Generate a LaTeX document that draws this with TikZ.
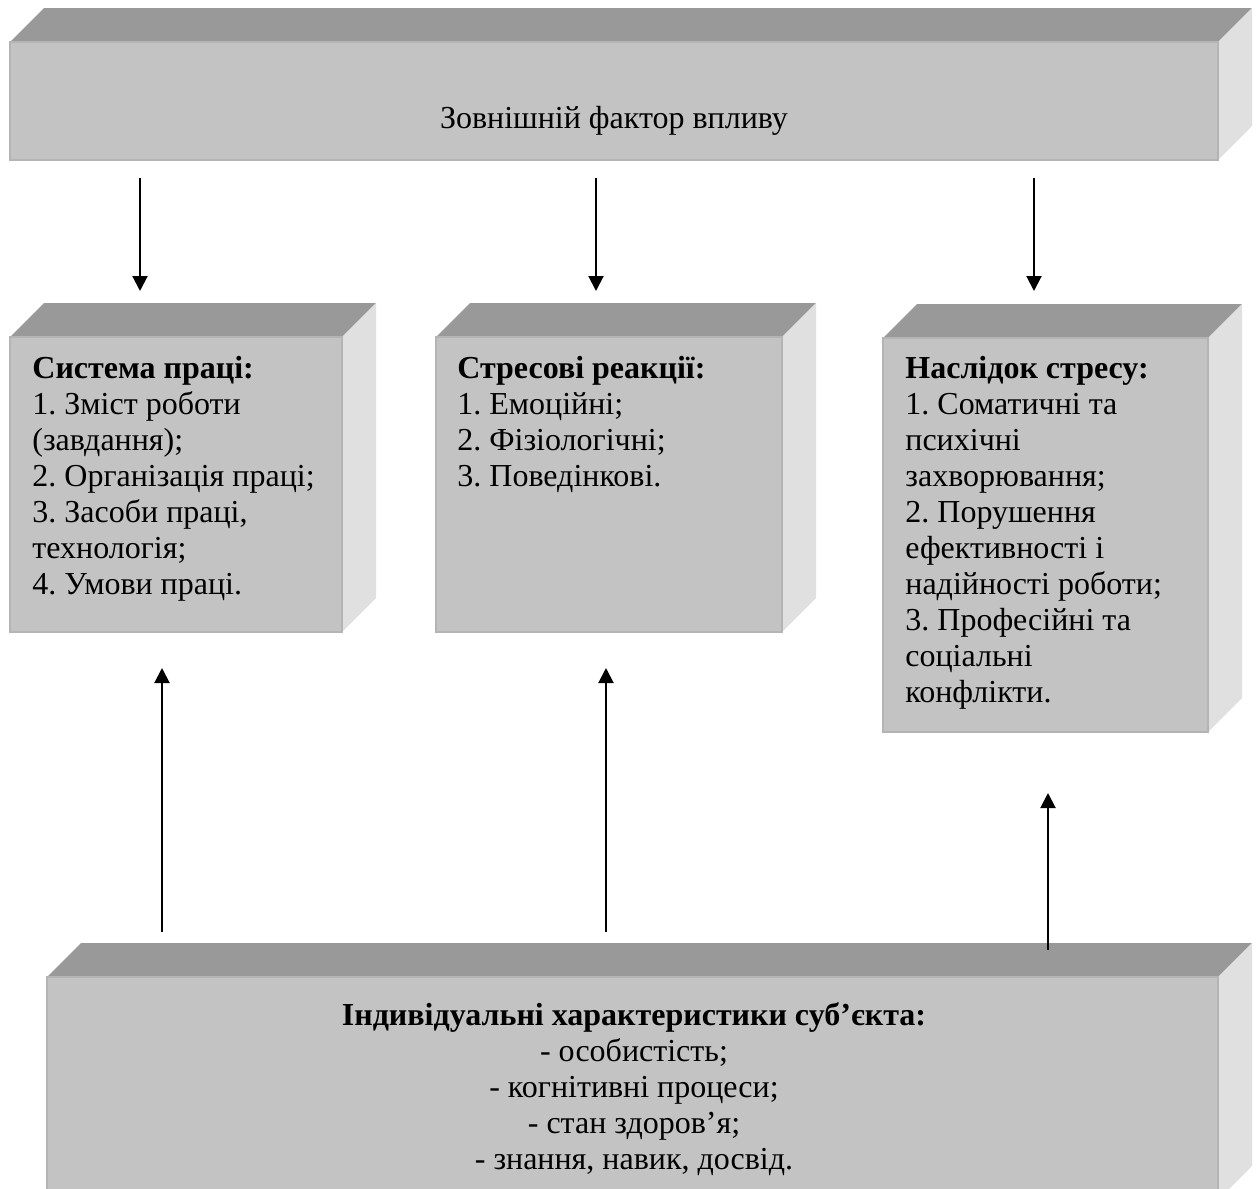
\documentclass[tikz,border=0pt]{standalone}
\usepackage{fontspec}
\setmainfont{Liberation Serif}
\usetikzlibrary{arrows.meta}
\definecolor{facegray}{RGB}{195,195,195}
\definecolor{topgray}{RGB}{153,153,153}
\definecolor{sidegray}{RGB}{224,224,224}
\definecolor{edgegray}{RGB}{180,180,180}
% block with front face (#1,#2)-(#3,#4), top and side faces behind it
\newcommand{\drawblock}[4]{%
  \fill[topgray] (#1,#2) -- (#1+34,#2-34) -- (#3+34,#2-34) -- (#3,#2) -- cycle;
  \fill[sidegray] (#3,#2) -- (#3+34,#2-34) -- (#3+34,#4-34) -- (#3,#4) -- cycle;
  \filldraw[fill=facegray, draw=edgegray, line width=1pt] (#1,#2) rectangle (#3,#4);}
\frenchspacing

\begin{document}
\begin{tikzpicture}[x=0.5pt, y=-0.5pt,
  every node/.style={font=\fontsize{16}{18}\selectfont, inner sep=0pt},
  boxtext/.style={align=left, anchor=north west},
  arr/.style={line width=1pt, -{Triangle[length=7.5pt,width=7.5pt]}}]
\useasboundingbox (0,0) rectangle (1259,1189);

% blocks
\drawblock{10}{42}{1218}{160}
\drawblock{10}{337}{342}{632}
\drawblock{436}{337}{782}{632}
\drawblock{883}{338}{1208}{732}
\drawblock{47}{977}{1218}{1200}

% texts
\node[anchor=base] (factor) at (614,128) {Зовнішній фактор впливу};
\node[boxtext] (system) at (32,356) {\textbf{Система праці:}\\1. Зміст роботи\\(завдання);\\2. Організація праці;\\3. Засоби праці,\\технологія;\\4. Умови праці.};
\node[boxtext] (reaction) at (457,356) {\textbf{Стресові реакції:}\\1. Емоційні;\\2. Фізіологічні;\\3. Поведінкові.};
\node[boxtext] (result) at (905,356) {\textbf{Наслідок стресу:}\\1. Соматичні та\\психічні\\захворювання;\\2. Порушення\\ефективності і\\надійності роботи;\\3. Професійні та\\соціальні\\конфлікти.};
\node[align=center, anchor=north] (person) at (634,1002) {\textbf{Індивідуальні характеристики суб’єкта:}\\- особистість;\\- когнітивні процеси;\\- стан здоров’я;\\- знання, навик, досвід.};

% arrows
\coordinate (d1s) at (140,178);  \coordinate (d1e) at (140,291);
\coordinate (d2s) at (596,178);  \coordinate (d2e) at (596,291);
\coordinate (d3s) at (1034,178); \coordinate (d3e) at (1034,291);
\coordinate (u1s) at (162,932);  \coordinate (u1e) at (162,668);
\coordinate (u2s) at (606,932);  \coordinate (u2e) at (606,668);
\coordinate (u3s) at (1048,950); \coordinate (u3e) at (1048,793);
\draw[arr] (d1s) -- (d1e);
\draw[arr] (d2s) -- (d2e);
\draw[arr] (d3s) -- (d3e);
\draw[arr] (u1s) -- (u1e);
\draw[arr] (u2s) -- (u2e);
\draw[arr] (u3s) -- (u3e);
\end{tikzpicture}
\end{document}
